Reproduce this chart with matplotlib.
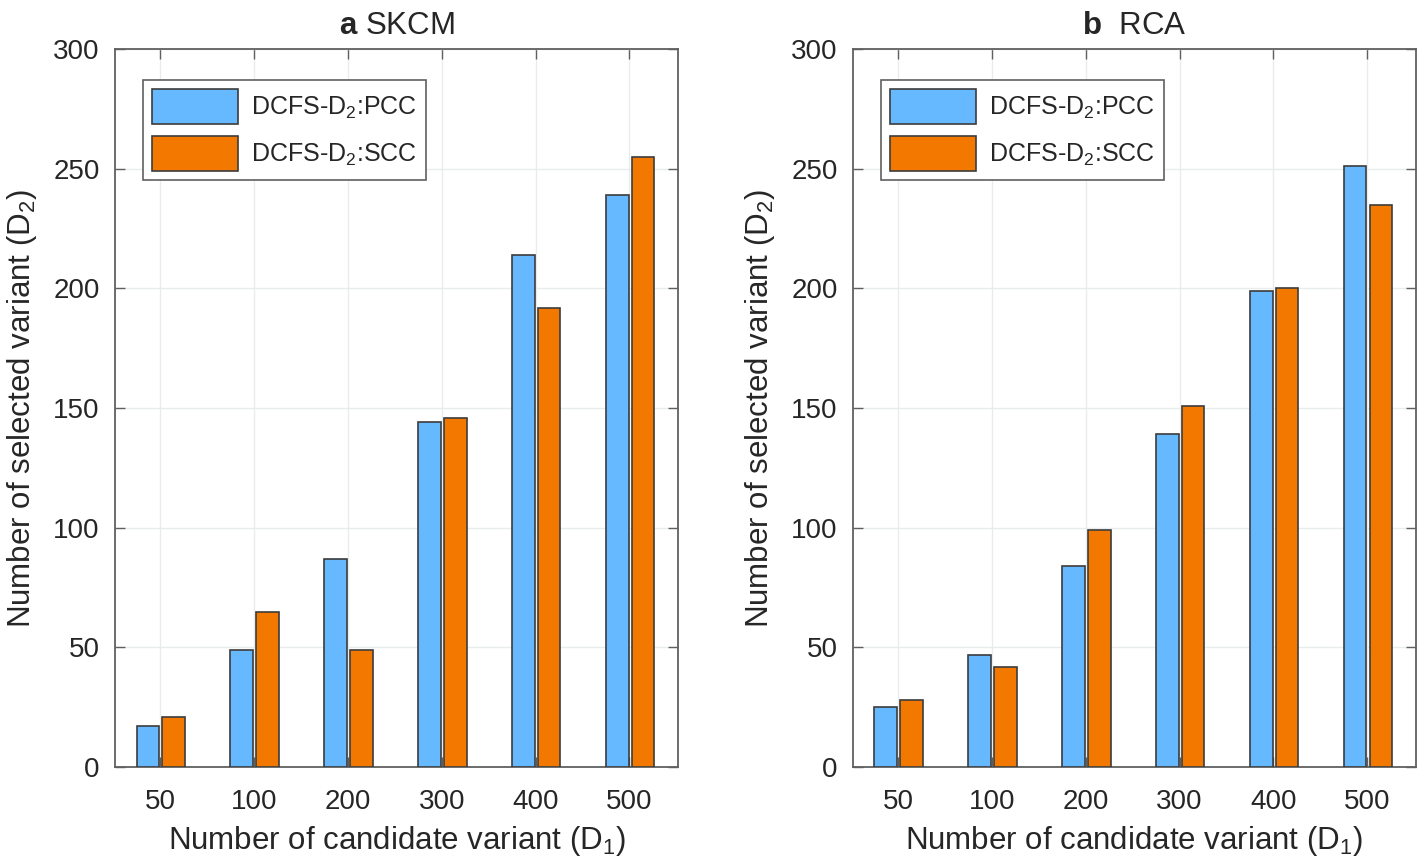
import matplotlib.pyplot as plt
import numpy as np

plt.rcParams['font.family'] = ['Liberation Sans', 'DejaVu Sans']
plt.rcParams['mathtext.fontset'] = 'custom'
plt.rcParams['mathtext.rm'] = 'Liberation Sans'
plt.rcParams['mathtext.bf'] = 'Liberation Sans:bold'
plt.rcParams['mathtext.default'] = 'regular'

# data
categories = ['50', '100', '200', '300', '400', '500']
skcm_pcc = [17, 49, 87, 144, 214, 239]
skcm_scc = [21, 65, 49, 146, 192, 255]
rca_pcc = [25, 47, 84, 139, 199, 251]
rca_scc = [28, 42, 99, 151, 200, 235]

panels = [
    (r'$\mathbf{a}$ SKCM', skcm_pcc, skcm_scc),
    (r'$\mathbf{b}$  RCA', rca_pcc, rca_scc),
]

blue = '#66b8ff'
orange = '#f27800'
edge = '#3c3c3c'
spine_c = '#606060'
text_c = '#262626'

fig = plt.figure(figsize=(14.19, 8.61), dpi=100)
ax_pos = [[0.081, 0.109, 0.397, 0.834], [0.601, 0.109, 0.397, 0.834]]

x = np.arange(1, len(categories) + 1)
w = 0.24

for pos, (title, pcc, scc) in zip(ax_pos, panels):
    ax = fig.add_axes(pos)
    ax.bar(x - 0.13, pcc, width=w, color=blue, edgecolor=edge, linewidth=1.2,
           label=r'DCFS-D$_2$:PCC', zorder=3)
    ax.bar(x + 0.145, scc, width=w, color=orange, edgecolor=edge, linewidth=1.2,
           label=r'DCFS-D$_2$:SCC', zorder=3)

    ax.set_xlim(0.52, 6.52)
    ax.set_ylim(0, 300)
    ax.set_xticks(x)
    ax.set_xticklabels(categories)
    ax.set_yticks(np.arange(0, 301, 50))
    ax.grid(True, color='#e8ecec', linewidth=1, zorder=0)
    ax.set_axisbelow(True)
    ax.tick_params(direction='in', length=7, width=1, colors=spine_c,
                   labelcolor=text_c, labelsize=20, top=True, right=True)
    ax.tick_params(axis='x', pad=16)
    ax.tick_params(axis='y', pad=11)
    for s in ax.spines.values():
        s.set_color(spine_c)
        s.set_linewidth(1.3)

    ax.set_xlabel(r'Number of candidate variant (D$_1$)', fontsize=22.5, color=text_c, labelpad=6)
    ax.set_ylabel(r'Number of selected variant (D$_2$)', fontsize=22.5, color=text_c, labelpad=10)
    ax.set_title(title, fontsize=22.5, color=text_c, pad=11)

    leg = ax.legend(loc='upper left', bbox_to_anchor=(0.05, 0.957), fontsize=18,
                    handlelength=3.45, handleheight=1.78, borderpad=0.36,
                    labelspacing=0.48, handletextpad=0.5, borderaxespad=0,
                    fancybox=False, framealpha=1)
    leg.get_frame().set_edgecolor(spine_c)
    leg.get_frame().set_linewidth(1.2)
    for t in leg.get_texts():
        t.set_color(text_c)

fig.savefig('out.png', dpi=100)
